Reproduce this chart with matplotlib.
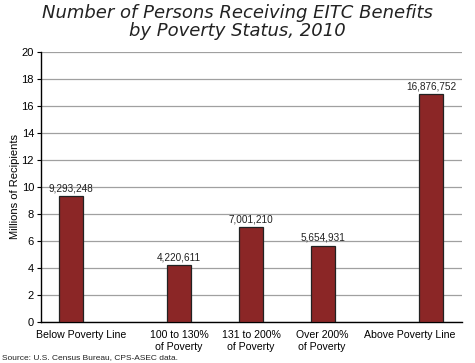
import matplotlib
matplotlib.use("Agg")
import matplotlib.pyplot as plt
from matplotlib.transforms import ScaledTranslation

categories = ["Below Poverty Line", "100 to 130%\nof Poverty", "131 to 200%\nof Poverty",
              "Over 200%\nof Poverty", "Above Poverty Line"]
values = [9293248, 4220611, 7001210, 5654931, 16876752]
positions = [0, 1.5, 2.5, 3.5, 5]
yticks = [0, 2, 4, 6, 8, 10, 12, 14, 16, 18, 20]

plt.rcParams['font.family'] = ['Liberation Sans', 'DejaVu Sans']

fig = plt.figure(figsize=(4.75, 3.63), dpi=100)
ax = fig.add_axes([0.0863, 0.113, 0.8863, 0.744])

vals_m = [v / 1e6 for v in values]
ax.bar(positions, vals_m, width=0.33, color="#8B2626", edgecolor="#222222", linewidth=0.9, zorder=3)
for p, v, m in zip(positions, values, vals_m):
    ax.text(p, m + 0.22, f"{v:,}", ha="center", va="bottom", fontsize=7.2, color="#222222")

ax.set_xlim(-0.417, 5.43)
ax.set_ylim(0, 20)
ax.set_yticks(yticks)
ax.set_yticklabels([str(t) for t in yticks], fontsize=8)
ax.yaxis.grid(True, color="#a0a0a0", linewidth=0.9, zorder=0)
ax.set_xticks(positions)
ax.set_xticklabels(categories, fontsize=7.6, linespacing=1.2)
ax.tick_params(axis="x", length=0, pad=6)
ax.tick_params(axis="y", length=3, width=0.8, pad=2)
# outer labels sit shifted inward, as in the reference
shifts_px = [10, 0, 0, -1, -21]
for lab, dx in zip(ax.get_xticklabels(), shifts_px):
    lab.set_transform(lab.get_transform() + ScaledTranslation(dx / 100, 0, fig.dpi_scale_trans))
for s in ["top", "right"]:
    ax.spines[s].set_visible(False)
ax.spines["left"].set_linewidth(1.0)
ax.spines["bottom"].set_linewidth(1.0)
ax.set_ylabel("Millions of Recipients", fontsize=8, labelpad=1)

fig.suptitle("Number of Persons Receiving EITC Benefits\nby Poverty Status, 2010",
             fontsize=13, style="italic", y=0.99, linespacing=1.0, color="#222222",
             family=["DejaVu Sans"])
fig.text(0.005, 0.01, "Source: U.S. Census Bureau, CPS-ASEC data.", fontsize=6, color="#222222")

fig.savefig("out.png", dpi=100)
